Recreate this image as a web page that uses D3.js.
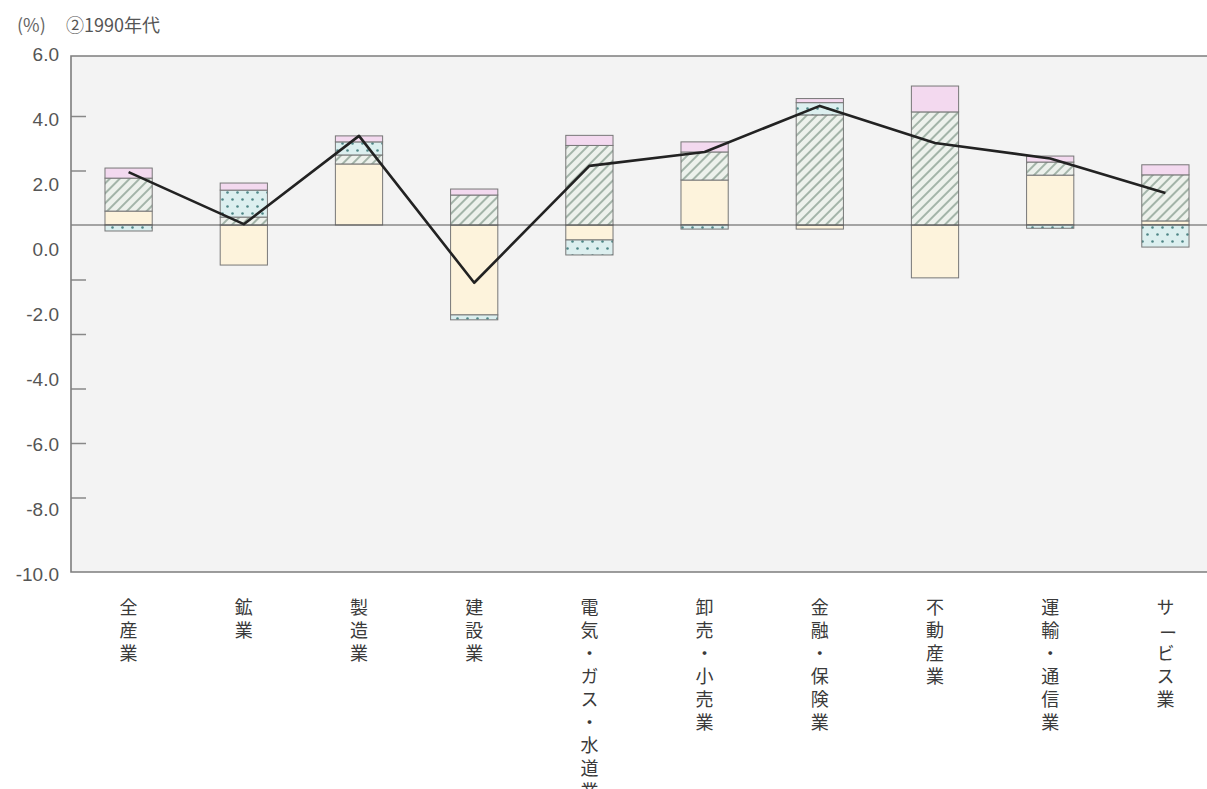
<!DOCTYPE html>
<html lang="ja">
<head>
<meta charset="utf-8">
<script src="https://cdn.jsdelivr.net/npm/d3@7"></script>
<style>
  html, body { margin: 0; padding: 0; background: #ffffff; }
  body { position: relative; width: 1207px; height: 789px; overflow: hidden; }
  svg { display: block; }
  text { font-family: "Liberation Sans", Arial, sans-serif; }
  .cat {
    position: absolute;
    font-family: "Noto Sans CJK JP", sans-serif;
    writing-mode: vertical-rl;
    font-size: 18px;
    line-height: 24px;
    width: 24px;
    letter-spacing: 5px;
    color: #3a3a3a;
    white-space: nowrap;
  }
  .cat .turn { display: inline-block; transform: rotate(90deg); }
</style>
</head>
<body>
<svg id="chart" width="1207" height="789"></svg>
<script>
// Industries along the horizontal axis
const categories = [
  "全産業", "鉱業", "製造業", "建設業", "電気・ガス・水道業",
  "卸売・小売業", "金融・保険業", "不動産業", "運輸・通信業", "サービス業"
];

// Contribution components (percentage points), stacked from the zero line
const plainValues   = [0.51, -1.47, 2.24, -3.30, -0.55, 1.65, -0.15, -1.94, 1.83, 0.15];
const hatchedValues = [1.21,  0.29, 0.33,  1.10,  2.92, 1.03,  4.04,  4.15, 0.48, 1.69];
const dottedValues  = [-0.22, 0.99, 0.48, -0.18, -0.55, -0.15, 0.45,  0.00, -0.12, -0.81];
const pinkValues    = [0.37,  0.26, 0.22,  0.22,  0.37, 0.37,  0.15,  0.95, 0.22, 0.37];

// Growth rate line (%)
const lineValues = [1.94, 0.03, 3.27, -2.12, 2.17, 2.68, 4.37, 3.01, 2.44, 1.17];

// Printed tick labels on the value axis
const tickLabels = [6, 4, 2, 0, -2, -4, -6, -8, -10];
// Short tick marks along the value axis
const tickMarks = [4, 2, -2, -4, -6, -8, -10];

const titleUnit = "(%)";
const titleText = "②1990年代";

const keys = ["plain", "hatched", "dotted", "pink"];
const table = categories.map((c, i) => ({
  cat: c,
  plain: plainValues[i],
  hatched: hatchedValues[i],
  dotted: dottedValues[i],
  pink: pinkValues[i]
}));

const svg = d3.select("#chart");

const frame = { left: 71, right: 1207, top: 56, bottom: 572 };

// Plot scale for bars, line and tick marks
const y = d3.scaleLinear().domain([-8, 4]).range([443, 116]);
// The printed labels run on an evenly spaced column of their own
const yLabel = d3.scaleLinear().domain([-10, 6]).range([574, 54]);

const x = d3.scaleBand()
  .domain(categories)
  .range([frame.left, frame.left + 1152])
  .paddingInner(0.59)
  .paddingOuter(0.295);

// Fill patterns
const defs = svg.append("defs");
const hatch = defs.append("pattern")
  .attr("id", "hatch")
  .attr("patternUnits", "userSpaceOnUse")
  .attr("width", 7).attr("height", 7)
  .attr("patternTransform", "rotate(45)");
hatch.append("rect").attr("width", 7).attr("height", 7).attr("fill", "#edf1ec");
hatch.append("line")
  .attr("x1", 1).attr("y1", 0).attr("x2", 1).attr("y2", 7)
  .attr("stroke", "#7b9384").attr("stroke-width", 1.3);

const dots = defs.append("pattern")
  .attr("id", "dots")
  .attr("patternUnits", "userSpaceOnUse")
  .attr("width", 10).attr("height", 14);
dots.append("rect").attr("width", 10).attr("height", 14).attr("fill", "#dcefef");
dots.append("circle").attr("cx", 2.5).attr("cy", 3.5).attr("r", 1.3).attr("fill", "#4f8787");
dots.append("circle").attr("cx", 7.5).attr("cy", 10.5).attr("r", 1.3).attr("fill", "#4f8787");

const fills = {
  plain: "#fdf3dc",
  hatched: "url(#hatch)",
  dotted: "url(#dots)",
  pink: "#f3d9ef"
};

// Plot background
svg.append("rect")
  .attr("x", frame.left).attr("y", frame.top)
  .attr("width", frame.right - frame.left)
  .attr("height", frame.bottom - frame.top)
  .attr("fill", "#f3f3f3");

// Title
svg.append("text")
  .attr("x", 17).attr("y", 32)
  .attr("font-size", 18).attr("fill", "#666")
  .style("font-family", "'Noto Sans CJK JP', sans-serif")
  .text(titleUnit);
svg.append("text")
  .attr("x", 66).attr("y", 32)
  .attr("font-size", 18).attr("fill", "#555")
  .style("font-family", "'Noto Sans CJK JP', sans-serif")
  .text(titleText);

// Tick labels (plain hyphen for the minus sign)
const fmt = d3.format(".1f");
const labelAxis = d3.axisLeft(yLabel)
  .tickValues(tickLabels)
  .tickSize(0)
  .tickPadding(0)
  .tickFormat(d => fmt(d).replace("\u2212", "-"));
const gl = svg.append("g")
  .attr("transform", `translate(59,0)`)
  .call(labelAxis);
gl.select(".domain").remove();
gl.selectAll("text")
  .attr("font-size", 19)
  .attr("fill", "#555")
  .style("font-family", "'Liberation Sans', Arial, sans-serif");

// Tick marks pointing into the plot
const markAxis = d3.axisRight(y)
  .tickValues(tickMarks)
  .tickSize(15)
  .tickFormat("");
const gm = svg.append("g")
  .attr("transform", `translate(${frame.left},0)`)
  .call(markAxis);
gm.select(".domain").remove();
gm.selectAll("line").attr("stroke", "#888").attr("stroke-width", 1.5);

// Stacked bars
const stack = d3.stack().keys(keys).offset(d3.stackOffsetDiverging);
const series = stack(table);

svg.append("g")
  .selectAll("g")
  .data(series)
  .join("g")
  .attr("fill", d => fills[d.key])
  .selectAll("rect")
  .data(d => d.filter(s => s[1] !== s[0]))
  .join("rect")
  .attr("x", d => x(d.data.cat))
  .attr("width", x.bandwidth())
  .attr("y", d => y(Math.max(d[0], d[1])))
  .attr("height", d => Math.abs(y(d[0]) - y(d[1])))
  .attr("stroke", "#777")
  .attr("stroke-width", 1);

// Zero line
svg.append("line")
  .attr("x1", frame.left).attr("x2", frame.right)
  .attr("y1", y(0)).attr("y2", y(0))
  .attr("stroke", "#555").attr("stroke-width", 1.2);

// Growth line
const line = d3.line()
  .x((d, i) => x(categories[i]) + x.bandwidth() / 2)
  .y(d => y(d));
svg.append("path")
  .datum(lineValues)
  .attr("d", line)
  .attr("fill", "none")
  .attr("stroke", "#222")
  .attr("stroke-width", 2.6)
  .attr("stroke-linejoin", "round");

// Frame: top, left, bottom
svg.append("path")
  .attr("d", `M${frame.right},${frame.top}H${frame.left}V${frame.bottom}H${frame.right}`)
  .attr("fill", "none")
  .attr("stroke", "#7d7d7d")
  .attr("stroke-width", 1.6);

// Vertical category labels; the long-vowel mark is turned to run along the column
const catDivs = d3.select("body")
  .selectAll("div.cat")
  .data(categories)
  .join("div")
  .attr("class", "cat")
  .style("left", d => `${x(d) + x.bandwidth() / 2 - 12}px`)
  .style("top", "598px");

catDivs.each(function (d) {
  const el = d3.select(this);
  Array.from(d).forEach(ch => {
    if (ch === "ー") {
      el.append("span").attr("class", "turn").text(ch);
    } else {
      el.append("span").text(ch);
    }
  });
});
</script>
</body>
</html>
